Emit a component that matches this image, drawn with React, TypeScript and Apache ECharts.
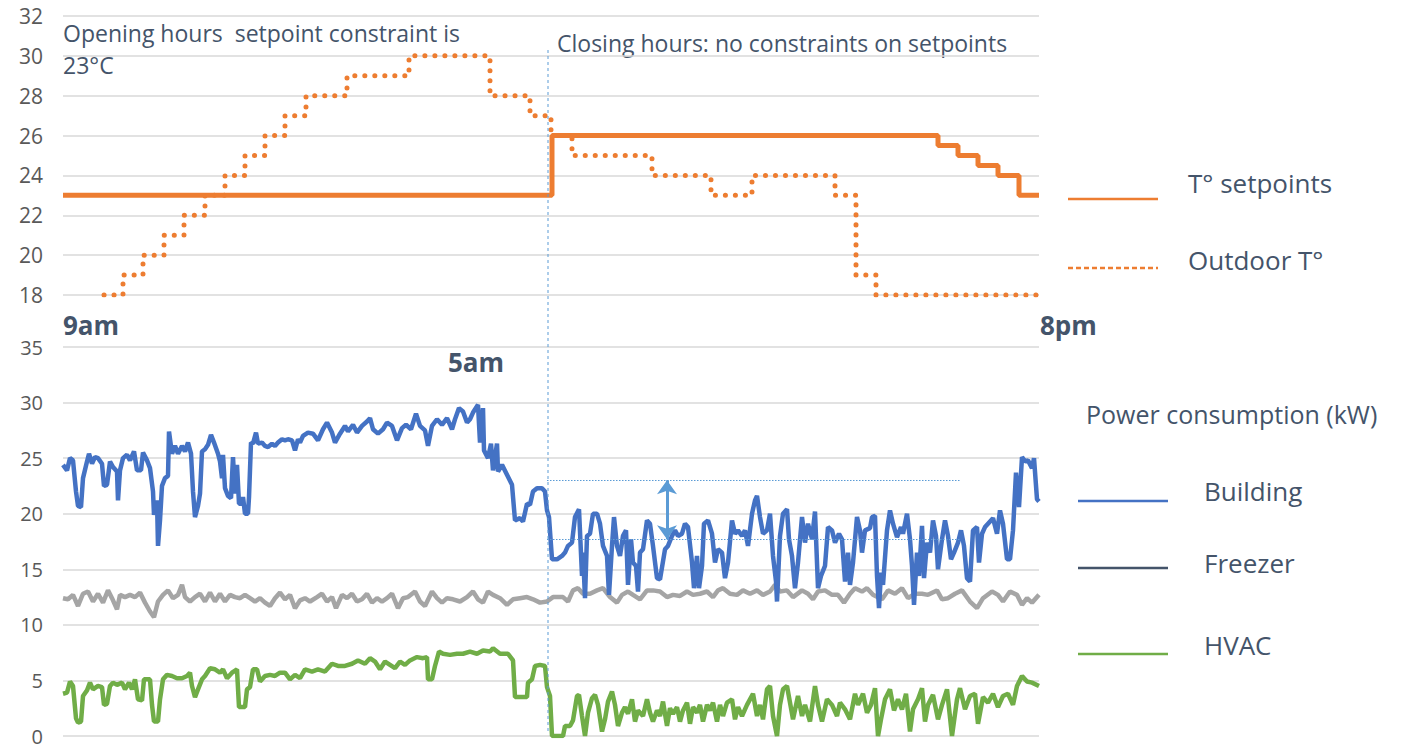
import React, { useEffect, useRef } from "react";
import * as echarts from "echarts";

// x = time step (0..979), y = value
const setpoint: [number, number][] = [
  [3, 23], [492, 26], [878, 25.5], [898, 25], [918, 24.5], [938, 24], [959, 23], [979, 23],
];
const outdoor: [number, number][] = [
  [44, 18], [63, 19], [83, 20], [104, 21], [124, 22], [145, 23], [165, 24], [185, 25], [205, 26],
  [225, 27], [246, 28], [287, 29], [349, 30], [430, 28], [470, 27], [491, 26], [512, 25],
  [592, 24], [651, 23], [692, 24], [775, 23], [796, 19], [816, 18], [977, 18],
];
const building: [number, number][] = [
  [3, 24.4], [7, 23.9], [10, 25], [13, 24.8], [16, 22], [18, 20.7], [21, 20.6], [23, 23.2], [27, 24.7], [29, 25.4],
  [32, 24.5], [35, 25.1], [38, 25], [42, 24.5], [44, 22.5], [47, 22.6], [50, 24.7], [53, 24.2], [57, 23.8], [58, 21.2],
  [60, 23.9], [63, 25], [67, 25.3], [70, 24.8], [74, 25.6], [77, 23.9], [81, 23.9], [83, 25.5], [87, 24.8], [90, 24.1],
  [93, 22], [94, 19.9], [97, 21.2], [98, 17.1], [100, 19.4], [102, 22.5], [105, 23.2], [108, 23.4], [109, 27.4], [112, 25.4],
  [115, 26.1], [118, 25.4], [122, 26.1], [125, 25.6], [128, 26.4], [131, 25.4], [133, 22], [135, 19.7], [138, 20.7], [140, 21.8],
  [142, 25.6], [145, 25.8], [148, 26.2], [151, 27.1], [154, 26.4], [158, 25.4], [160, 24.7], [162, 23.2], [163, 25.3], [165, 22.3],
  [168, 21.6], [171, 21.4], [173, 25.1], [175, 21.8], [177, 24.4], [179, 20.9], [182, 20.9], [183, 21.5], [185, 20], [188, 20],
  [189, 21.5], [191, 26.4], [193, 26.3], [196, 27.3], [198, 26.3], [202, 26.4], [205, 26.1], [208, 26], [212, 26.3], [215, 26.1],
  [218, 26.4], [222, 26.7], [225, 26.6], [228, 26.7], [232, 26.6], [235, 25.7], [238, 26.7],
  [240, 26.4], [243, 27], [248, 27.3], [253, 27.2], [258, 26.6], [263, 27.6], [267, 28.2], [272, 27.3], [275, 26.4], [280, 27.2],
  [285, 27.9], [288, 27.4], [293, 28], [297, 27.3], [302, 27.9], [307, 28.3], [310, 28.6], [313, 27.6], [318, 27.2], [323, 27.6],
  [327, 28.2], [332, 27.9], [337, 26.6], [342, 27.7], [346, 28], [351, 27.6], [356, 29], [360, 27.9], [365, 27.5], [368, 26.1],
  [372, 27.9], [377, 28.5], [382, 28], [387, 28.6], [392, 27.6], [395, 28.5], [399, 29.5], [403, 29.2], [407, 28.2], [410, 28.5],
  [413, 29.1], [418, 29.8], [420, 26.4], [423, 29.5], [424, 25.7], [428, 25], [431, 26.3], [433, 23.9], [437, 26.3], [438, 23.8],
  [442, 24.4], [447, 23.5], [452, 22.6], [455, 19.4], [460, 19.6], [463, 19.3], [467, 20.9], [470, 20.8], [473, 22], [477, 22.3],
  [482, 22.3], [485, 22], [487, 20.3], [489, 19.7], [492, 15.9],
  [497, 15.9], [502, 16.2], [505, 16.5], [508, 17.1], [512, 17.4], [515, 19.7], [519, 20.4], [522, 14.4], [523, 16.5], [525, 12.4],
  [527, 18], [530, 18.2], [533, 20], [537, 20], [540, 19.1], [543, 17.1], [547, 16.2], [549, 12.7], [552, 17.1], [554, 19.7],
  [557, 17.1], [560, 16.2], [563, 18], [566, 18.5], [568, 13.6], [571, 17.7], [573, 15.6], [576, 15.3], [578, 13], [580, 16.5],
  [583, 16.8], [587, 19.4], [590, 19.1], [593, 17.1], [597, 14.2], [600, 14.1], [605, 16.8], [608, 17.1], [612, 18], [615, 18.5],
  [618, 18], [622, 18.2], [625, 19.1], [628, 18.8], [632, 15.6], [634, 13.3], [637, 16.2], [639, 13.3], [642, 15.3], [644, 19.1],
  [648, 19.4], [652, 18.2], [655, 15.6], [658, 16.8], [662, 16.5], [665, 14.2], [668, 15.6], [672, 19.4], [675, 18.2], [678, 18.5],
  [682, 18], [685, 18.5], [688, 17.1], [692, 20], [695, 21.2], [697, 21.6], [700, 19.7], [703, 18.2], [707, 18.5], [710, 20],
  [713, 16.2], [716, 13.9], [717, 12.1], [720, 18], [723, 20], [727, 20.4], [729, 17.7], [732, 16.2], [735, 13.3],
  [738, 15.6], [742, 19.7], [745, 17.4], [748, 19.1], [752, 17.7], [755, 20.2], [758, 13.3], [761, 14.4], [765, 15.3], [768, 18.8],
  [772, 18.5], [775, 17.4], [779, 18.2], [782, 17.7], [785, 13.9], [788, 16.5], [790, 13.6], [793, 15.6], [797, 19.7], [800, 18.5],
  [802, 16.5], [805, 18.5], [810, 18.7], [812, 19.7], [815, 19.8], [817, 14.4], [819, 11.5], [821, 14.7], [823, 13.6], [827, 18.5],
  [830, 20.3], [833, 19.1], [837, 17.9], [841, 18.8], [843, 18.2], [847, 20], [850, 17.7], [852, 15.3], [854, 11.8], [857, 16.5],
  [859, 14.4], [862, 18.9], [864, 14.2], [867, 17.4], [870, 16.5], [873, 19.4], [876, 18], [878, 15], [882, 17.7], [885, 19.4],
  [888, 18], [891, 15.9], [894, 16.5], [898, 17.4], [901, 18.5], [904, 17.1], [907, 14.2], [910, 13.9], [913, 18.5], [917, 18.8],
  [919, 15.6], [922, 18.2], [925, 18.8], [928, 19.1], [933, 19.6], [937, 18.2], [940, 20.3], [943, 19.1], [947, 15.9], [950, 15.9],
  [953, 18.5], [956, 23.7], [959, 20.6], [962, 25.1], [965, 24.7], [968, 24.8], [972, 24.1], [974, 25], [977, 21.3], [979, 21.1],
];
const freezer: [number, number][] = [
  [3, 12.4], [8, 12.3], [13, 12.7], [18, 11.7], [23, 12.8], [28, 13], [33, 12.1], [38, 12.8], [43, 12], [48, 13.1],
  [52, 12.4], [57, 11.4], [60, 12.7], [65, 12.5], [70, 12.7], [75, 12.5], [80, 12.9], [85, 12], [90, 11.2], [94, 10.7],
  [98, 12.1], [103, 12.7], [108, 13.1], [113, 12.4], [118, 12.7], [122, 13.6], [125, 12.5], [130, 12.1], [135, 12.5], [140, 12.8],
  [145, 12.1], [150, 12.9], [155, 12.1], [160, 12.8], [165, 12.1], [170, 12.7], [175, 12.5], [180, 12.4], [185, 12.7], [190, 12.4],
  [195, 12.1], [200, 12.4], [205, 12], [210, 11.7], [215, 12.4], [220, 12.9], [225, 12.3], [230, 12.7], [235, 11.5],
  [240, 12.2], [245, 12.4], [250, 12.1], [257, 12.5], [262, 12.8], [267, 12.1], [272, 12.5], [276, 11.5], [282, 12.7], [287, 12.4],
  [292, 12.8], [297, 12.1], [302, 12.3], [307, 12.8], [312, 12], [317, 12.4], [322, 12.1], [327, 12.4], [332, 12.8], [338, 11.5],
  [343, 12.4], [348, 12.5], [355, 13], [360, 12.1], [365, 11.7], [372, 13], [377, 12.4], [382, 12], [387, 12.4], [393, 12.3],
  [400, 12.1], [407, 12.5], [413, 13], [418, 12.3], [423, 12], [428, 13], [433, 12.7], [440, 12.4], [447, 11.8], [453, 12.3],
  [460, 12.4], [467, 12.5], [473, 12.3], [480, 12], [487, 12.1],
  [493, 12.5], [497, 12.5], [503, 12.5], [508, 12.1], [513, 13.1], [518, 13.3], [523, 12.8], [530, 12.8], [537, 13.1], [543, 13.3],
  [550, 12.5], [557, 12], [562, 12.7], [568, 13], [573, 12.7], [580, 12.3], [587, 13.1], [593, 13.1], [600, 13], [607, 12.5],
  [613, 12.7], [620, 12.6], [627, 13], [633, 12.7], [640, 12.8], [647, 13], [653, 12.5], [658, 13.1], [663, 13.3], [670, 12.8],
  [677, 12.7], [683, 13.1], [690, 12.8], [697, 13.1], [703, 12.7], [710, 13], [715, 13.6], [720, 13], [727, 13.1], [733, 12.5],
  [742, 13.1], [748, 12.8], [753, 12.3], [758, 13], [765, 13.1], [772, 12.7], [778, 12.7], [784, 12], [790, 12.8], [795, 13.3],
  [802, 13], [807, 13.3], [813, 12.7], [822, 12.3], [828, 13.1], [835, 12.8], [842, 13.3], [848, 12.4], [855, 12.8], [862, 12.8],
  [868, 12.7], [877, 13.1], [882, 12.3], [888, 12.4], [895, 12.8], [902, 13.1], [910, 12.1], [917, 11.5], [923, 12.4], [932, 13],
  [938, 12.7], [943, 12.1], [950, 13], [957, 12.7], [962, 11.8], [967, 12.4], [972, 12], [979, 12.7],
];
const hvac: [number, number][] = [
  [3, 3.8], [7, 3.9], [10, 4.9], [13, 4.5], [16, 1.6], [18, 1.2], [21, 1.3], [23, 3.6], [27, 4.1], [30, 4.8],
  [33, 4.2], [38, 4.5], [42, 4.4], [44, 2.8], [47, 2.9], [50, 4.5], [53, 4.8], [57, 4.6], [62, 4.8], [65, 4.2],
  [69, 4.8], [72, 4.2], [75, 5.1], [78, 3.3], [82, 3.2], [84, 5.1], [90, 5.1], [92, 2.8], [94, 1.3], [98, 1.3],
  [100, 3.3], [103, 5.1], [107, 5.5], [112, 5.4], [117, 5.2], [122, 5.2], [127, 5.4], [130, 5.7], [132, 4.5], [135, 3.5],
  [138, 4.2], [142, 5.1], [145, 5.4], [150, 6.1], [155, 6], [160, 5.7], [163, 6], [167, 5.2], [172, 5.7], [177, 6],
  [179, 2.6], [182, 2.6], [185, 2.6], [187, 4.2], [190, 4.4], [193, 6], [197, 6], [200, 4.9], [205, 5.4], [210, 5.5],
  [215, 5.4], [220, 5.7], [225, 5.7], [230, 5.1], [235, 5.5],
  [240, 5.2], [245, 6], [252, 5.8], [258, 6], [265, 5.8], [272, 6.5], [278, 6.3], [285, 6.3], [292, 6.5], [298, 6.8],
  [305, 6.5], [310, 7], [315, 6.7], [320, 6], [325, 6.7], [330, 6.4], [335, 6.1], [340, 6.7], [345, 6.4], [350, 6.8],
  [357, 7.1], [363, 7], [367, 7.1], [368, 5.1], [372, 5.1], [375, 6.3], [379, 7.6], [383, 7.4], [390, 7.3], [397, 7.4],
  [403, 7.4], [410, 7.6], [417, 7.4], [423, 7.7], [430, 7.6], [433, 7.9], [440, 7.4], [448, 7.4], [453, 6.8], [455, 3.5],
  [462, 3.5], [467, 3.5], [468, 4.8], [472, 5.1], [475, 6.3], [480, 6.4], [485, 6.3], [487, 4.4], [490, 3.6], [492, 0],
  [503, 0], [505, 0.9], [510, 0.9], [513, 1.4], [517, 3.6], [519, 3.7], [522, 1.8], [525, 0], [528, 2.1], [532, 3.4],
  [535, 3.7], [538, 2.8], [542, 0.4], [545, 1.5], [548, 3.1], [552, 4], [555, 2.8], [558, 0.9], [562, 2.1], [565, 2.6],
  [568, 2], [572, 3.3], [575, 1.3], [578, 2.3], [583, 1.8], [587, 3.3], [590, 2.1], [593, 1.3], [597, 2.3], [600, 1.8],
  [603, 3.1], [607, 0.9], [610, 2.5], [613, 2], [617, 2.6], [620, 1.3], [623, 2.3], [627, 3], [630, 1.1], [633, 2.6],
  [637, 2.1], [640, 2.8], [643, 1.3], [647, 2.8], [650, 2.3], [653, 3], [657, 1.3], [660, 2.8], [663, 1.8], [667, 3],
  [672, 3.3], [675, 1.5], [678, 2.6], [682, 1.8], [687, 2.8], [690, 3.3], [693, 3.8], [697, 1.8], [700, 2.8], [703, 1.5],
  [707, 4.2], [710, 4.5], [713, 1.8], [717, 0], [720, 2.8], [723, 4.2], [727, 4.5], [730, 3], [733, 1.5],
  [738, 3.6], [742, 1.8], [745, 2.8], [750, 1.3], [755, 4.5], [758, 2.8], [762, 1.3], [767, 3.3], [772, 2.8], [777, 1.8],
  [780, 3], [785, 2.4], [790, 1.5], [795, 3.8], [798, 2.8], [803, 3.8], [807, 2.1], [811, 2.8], [815, 4.3], [818, 0],
  [821, 1.5], [825, 3.3], [830, 4.2], [834, 2.3], [838, 3.3], [842, 2.4], [846, 3.8], [850, 0.4], [853, 2.4], [858, 3.3],
  [862, 4.3], [865, 1.3], [868, 2.8], [873, 3.7], [878, 1.5], [882, 2.8], [887, 4.2], [892, 0], [897, 3.3], [900, 4.3],
  [905, 2.4], [910, 3.6], [915, 3.8], [918, 1.1], [923, 3.5], [928, 3], [933, 3.8], [938, 2.6], [943, 3.6], [948, 3.8],
  [953, 2.8], [957, 4.5], [962, 5.4], [967, 4.9], [972, 4.8], [979, 4.5],
];

// annotation: gap between opening-hours level and closing-hours level
const gapUpper = 23;
const gapLower = 17.7;
const gapStart = 487;
const gapEnd = 901;
const arrowAt = 607;

const tempTicks = { min: 18, max: 32, interval: 2 };
const powerTicks = { min: 0, max: 35, interval: 5 };

const TXT = "#44546A";
const FONT = "'Open Sans', 'Noto Sans', sans-serif";

export default function App() {
  const ref = useRef<HTMLDivElement>(null);
  useEffect(() => {
    if (!ref.current) return;
    const chart = echarts.init(ref.current, undefined, { renderer: "svg" });
    const yAxisCommon = {
      type: "value" as const,
      axisLine: { show: false },
      axisTick: { show: false },
      axisLabel: { color: "#595959", fontSize: 21, fontFamily: FONT, margin: 20 },
      splitLine: { lineStyle: { color: "#D9D9D9", width: 1.5 } },
    };
    const txt = (text: string, x: number, y: number, size: number, bold = false) => ({
      type: "text",
      x,
      y,
      style: {
        text,
        fill: TXT,
        font: `${bold ? "bold " : ""}${size}px ${FONT}`,
        textVerticalAlign: "middle",
      },
    });
    const lg = (x1: number, x2: number, y: number, color: string, dash?: number[]) => ({
      type: "line",
      shape: { x1, y1: y, x2, y2: y },
      style: { stroke: color, lineWidth: 2.5, lineDash: dash },
    });
    chart.setOption({
      animation: false,
      textStyle: { fontFamily: FONT },
      grid: [
        { left: 63, width: 976, top: 16, height: 279 },
        { left: 63, width: 976, top: 347, height: 389 },
      ],
      xAxis: [
        { type: "value", gridIndex: 0, min: 3, max: 979, show: false },
        { type: "value", gridIndex: 1, min: 3, max: 979, show: false },
      ],
      yAxis: [
        { ...yAxisCommon, gridIndex: 0, ...tempTicks },
        {
          ...yAxisCommon,
          gridIndex: 1,
          ...powerTicks,
          axisLabel: { ...yAxisCommon.axisLabel, fontSize: 20 },
        },
      ],
      series: [
        {
          name: "Outdoor T°",
          type: "line",
          xAxisIndex: 0,
          yAxisIndex: 0,
          step: "end",
          data: outdoor,
          symbol: "none",
          lineStyle: { color: "#ED7D31", width: 5, type: [0.1, 9.9], cap: "round" },
          z: 2,
        },
        {
          name: "T° setpoints",
          type: "line",
          xAxisIndex: 0,
          yAxisIndex: 0,
          step: "end",
          data: setpoint,
          symbol: "none",
          lineStyle: { color: "#ED7D31", width: 5 },
          z: 3,
        },
        {
          name: "HVAC",
          type: "line",
          xAxisIndex: 1,
          yAxisIndex: 1,
          data: hvac,
          symbol: "none",
          lineStyle: { color: "#70AD47", width: 4.5 },
        },
        {
          name: "Freezer",
          type: "line",
          xAxisIndex: 1,
          yAxisIndex: 1,
          data: freezer,
          symbol: "none",
          lineStyle: { color: "#A5A5A5", width: 4.5 },
        },
        {
          name: "Building",
          type: "line",
          xAxisIndex: 1,
          yAxisIndex: 1,
          data: building,
          symbol: "none",
          lineStyle: { color: "#4472C4", width: 4.5 },
          markLine: {
            silent: true,
            symbol: "none",
            label: { show: false },
            lineStyle: { color: "#5B9BD5", width: 1, type: [1.5, 1.5] },
            data: [
              [{ coord: [gapStart, gapUpper] }, { coord: [gapEnd, gapUpper] }],
              [{ coord: [gapStart, gapLower] }, { coord: [gapEnd, gapLower] }],
              [
                {
                  coord: [arrowAt, gapLower],
                  symbol: "arrow",
                  symbolSize: [15, 14],
                  lineStyle: { color: "#5B9BD5", width: 3, type: "solid" },
                },
                { coord: [arrowAt, gapUpper], symbol: "arrow", symbolSize: [15, 14] },
              ],
            ],
          },
        },
      ],
      graphic: [
        {
          type: "line",
          shape: { x1: 548, y1: 50, x2: 548, y2: 733 },
          style: { stroke: "#5B9BD5", lineWidth: 1, lineDash: [3, 3] },
          z: 10,
        },
        txt("Opening hours  setpoint constraint is", 63, 33, 23),
        txt("23°C", 63, 65, 23),
        txt("Closing hours: no constraints on setpoints", 557, 43, 23),
        txt("9am", 63, 325, 26, true),
        txt("8pm", 1040, 325, 26, true),
        txt("5am", 448, 362, 26, true),
        lg(1068, 1158, 199, "#ED7D31"),
        txt("T° setpoints", 1188, 183, 26),
        lg(1068, 1158, 268, "#ED7D31", [5, 3]),
        txt("Outdoor T°", 1188, 260, 26),
        txt("Power consumption (kW)", 1086, 414, 25),
        lg(1078, 1168, 501, "#4472C4"),
        txt("Building", 1204, 491, 26),
        lg(1078, 1168, 568, "#44546A"),
        txt("Freezer", 1204, 563, 26),
        lg(1078, 1168, 654, "#70AD47"),
        txt("HVAC", 1204, 645, 26),
      ],
    });
    return () => chart.dispose();
  }, []);
  return (
    <div
      ref={ref}
      style={{ position: "absolute", left: 0, top: 0, width: 1403, height: 752, background: "#fff" }}
    />
  );
}
